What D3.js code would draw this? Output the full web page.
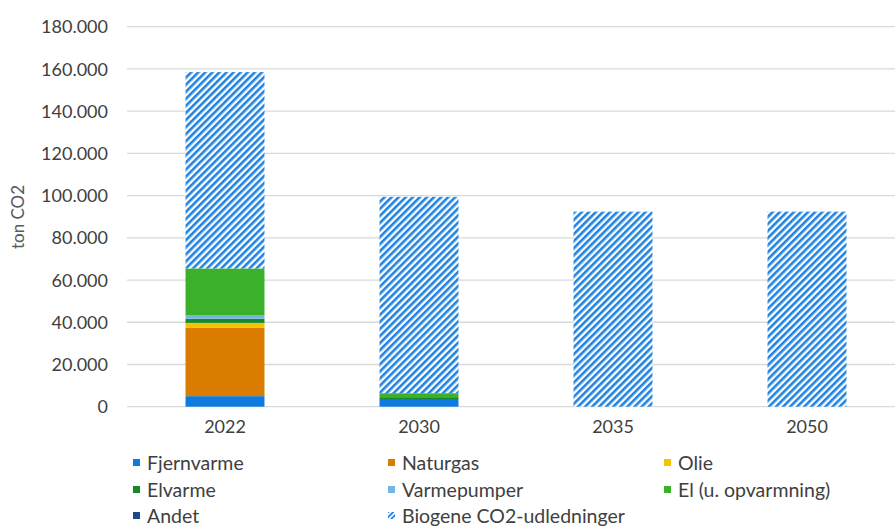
<!DOCTYPE html>
<html><head><meta charset="utf-8">
<script src="https://cdn.jsdelivr.net/npm/d3@7"></script>
<style>body{margin:0;background:#fff;} svg{display:block;font-family:Lato, "Open Sans", sans-serif;}</style>
</head><body>
<svg id="chart" width="895" height="529"></svg>
<script>
const categories = ["2022", "2030", "2035", "2050"];
const fjernvarme = [5000, 3200, 0, 0];
const naturgas = [32500, 0, 0, 0];
const olie = [2200, 0, 0, 0];
const elvarme = [2000, 1300, 0, 0];
const varmepumper = [1500, 0, 0, 0];
const elUOpv = [22300, 1900, 0, 0];
const andet = [0, 0, 0, 0];
const biogene = [93000, 93000, 92400, 92400];
const yTicks = [0, 20000, 40000, 60000, 80000, 100000, 120000, 140000, 160000, 180000];

const seriesNames = ["Fjernvarme", "Naturgas", "Olie", "Elvarme", "Varmepumper", "El (u. opvarmning)", "Andet", "Biogene CO2-udledninger"];
const seriesValues = [fjernvarme, naturgas, olie, elvarme, varmepumper, elUOpv, andet, biogene];
const colors = ["#0f7be0", "#d97c00", "#f5c400", "#17882c", "#74b6e2", "#3bb02a", "#1b4a8a", "url(#hatch)"];

const svg = d3.select("#chart");
const defs = svg.append("defs");
const pat = defs.append("pattern").attr("id", "hatch").attr("patternUnits", "userSpaceOnUse")
  .attr("width", 5).attr("height", 5).attr("patternTransform", "rotate(45)");
pat.append("rect").attr("width", 5).attr("height", 5).attr("fill", "#fff");
pat.append("rect").attr("width", 2.6).attr("height", 5).attr("fill", "#1f83e2");
const patL = defs.append("pattern").attr("id", "hatchL").attr("patternUnits", "userSpaceOnUse")
  .attr("width", 3.5).attr("height", 3.5).attr("patternTransform", "rotate(45)");
patL.append("rect").attr("width", 3.5).attr("height", 3.5).attr("fill", "#fff");
patL.append("rect").attr("width", 1.8).attr("height", 3.5).attr("fill", "#1f83e2");

const x = d3.scaleBand().domain(categories).range([128, 904]).paddingInner(0.593).paddingOuter(0.2965);
const y = d3.scaleLinear().domain([0, 180000]).range([406.7, 26.7]);

// gridlines
svg.append("g").selectAll("line").data(yTicks).join("line")
  .attr("x1", 127).attr("x2", 895)
  .attr("y1", d => y(d)).attr("y2", d => y(d))
  .attr("stroke", "#d9d9d9").attr("stroke-width", 1.3);

// y axis labels
const yAxis = d3.axisLeft(y).tickValues(yTicks).tickSize(0).tickPadding(0)
  .tickFormat(d => d3.format(",")(d).replace(/,/g, "."));
const yg = svg.append("g").attr("transform", "translate(108,0)").call(yAxis);
yg.select(".domain").remove();
yg.selectAll("text").attr("font-size", 18).attr("fill", "#404040").attr("font-family", "Lato").attr("dy", "0.34em");

// stacked data
const rows = categories.map((c, i) => {
  const o = {cat: c};
  seriesNames.forEach((s, j) => o[s] = seriesValues[j][i]);
  return o;
});
const stack = d3.stack().keys(seriesNames)(rows);
svg.append("g").selectAll("g").data(stack).join("g")
  .attr("fill", (d, i) => colors[i])
  .selectAll("rect").data(d => d).join("rect")
  .attr("x", d => x(d.data.cat))
  .attr("width", x.bandwidth())
  .attr("y", d => y(d[1]))
  .attr("height", d => Math.max(0, y(d[0]) - y(d[1])));

// x axis labels
const xAxis = d3.axisBottom(x).tickSize(0).tickPadding(0);
const xg = svg.append("g").attr("transform", "translate(0,420)").call(xAxis);
xg.select(".domain").remove();
xg.selectAll("text").attr("font-size", 18).attr("fill", "#404040").attr("font-family", "Lato").attr("dy", "0.71em");

// y title
svg.append("text").attr("transform", "translate(24,217) rotate(-90)")
  .attr("text-anchor", "middle").attr("font-size", 17).attr("fill", "#595959").text("ton CO2");

// legend
const colX = [133, 388, 664];
const rowY = [463, 490, 516];
const leg = svg.append("g").selectAll("g").data(seriesNames).join("g")
  .attr("transform", (d, i) => `translate(${colX[i % 3]},${rowY[Math.floor(i / 3)]})`);
leg.append("rect").attr("x", 0).attr("y", -4).attr("width", 7).attr("height", 7)
  .attr("fill", (d, i) => i === 7 ? "url(#hatchL)" : colors[i]);
leg.append("text").attr("x", 14).attr("dy", "0.35em").attr("font-size", 19.5)
  .attr("fill", "#404040").text(d => d);
</script>
</body></html>
